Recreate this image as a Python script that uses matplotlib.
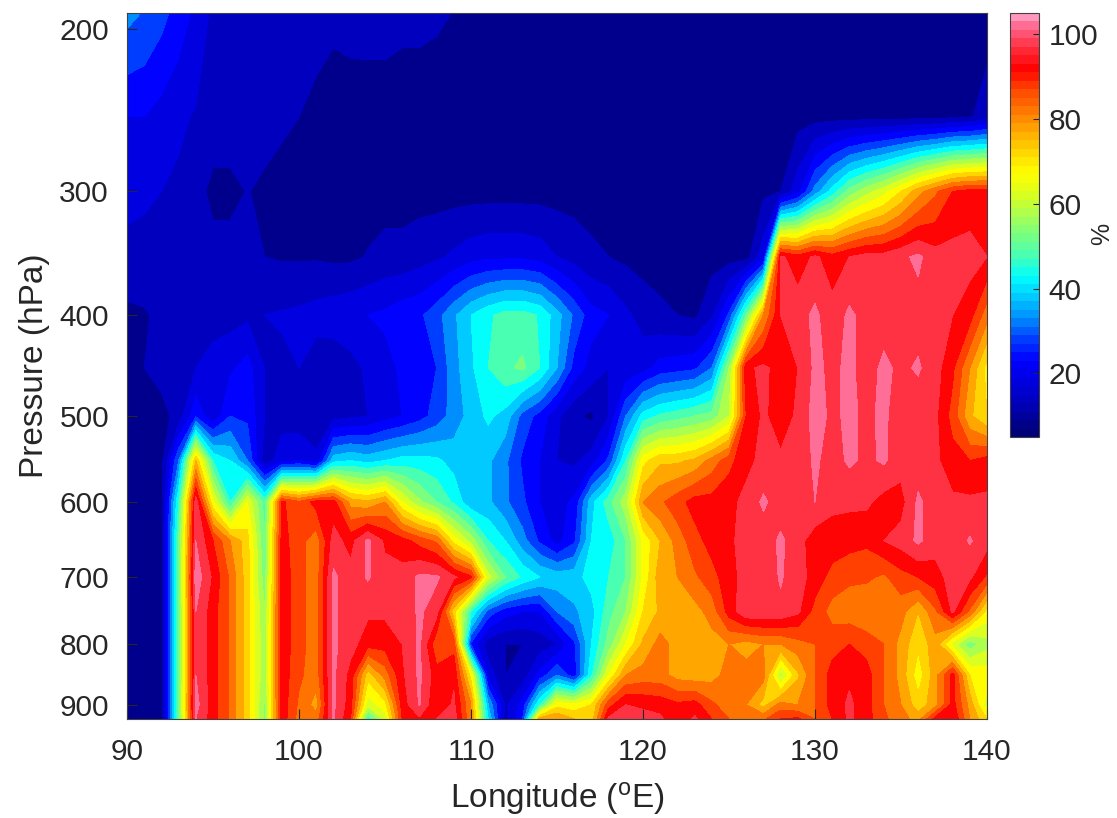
import numpy as np
import matplotlib
matplotlib.use("Agg")
import matplotlib.pyplot as plt
from matplotlib.cm import ScalarMappable
from matplotlib.colors import LinearSegmentedColormap, Normalize

plt.rcParams["font.family"] = ["Liberation Sans", "DejaVu Sans"]
plt.rcParams["mathtext.default"] = "regular"

#-------------------------------------------------------------------------
#   Data : relative humidity (%) per pressure level, lon 90..140 by 1 deg
#-------------------------------------------------------------------------

longitude = list(range(90, 141))
pressure = [190, 250, 300, 350, 400, 450, 500, 550, 600, 650, 700, 750, 800, 850, 900, 925]

rh_190 = [32, 30, 27, 23, 19, 14, 13, 12, 12, 12,
          12, 11.5, 11, 11.5, 11.6, 11.6, 11, 11, 10.6, 10,
          9, 8, 8, 8, 8, 8, 8, 8, 8, 8,
          8, 8, 8, 8, 8, 8, 8, 8, 8, 8,
          8, 8, 8, 8, 8, 8, 8, 8, 8, 8,
          8]
rh_250 = [20, 20, 18, 16, 14.5, 13, 13, 13, 12, 11,
          10, 9, 8, 8, 8, 8, 8, 8, 8, 8,
          8, 8, 8, 8, 8, 8, 8, 8, 8, 8,
          8, 8, 8, 8, 8, 8, 8, 8, 8, 8,
          8, 8, 8, 8, 8, 8, 8, 8, 9, 9.5,
          12]
rh_300 = [17, 16, 15, 14, 12, 8.5, 8.5, 10.2, 9, 8,
          8, 8, 8, 8, 8, 8, 8, 8, 8, 8,
          8, 8, 8, 8, 8, 8, 8, 8, 8, 8,
          8, 8, 8, 8, 8, 8, 8, 9, 10, 18,
          32, 42, 52, 58, 63, 70, 78, 84, 90, 92,
          92]
rh_350 = [13, 13, 13, 13, 13, 12, 12, 11, 10, 9.5,
          9.5, 9.5, 9, 9, 10.3, 11.6, 11.6, 13, 14, 16,
          18, 19, 19, 19, 18, 15, 13, 11, 10, 9,
          8, 8, 8, 8, 8, 8, 8, 18, 96, 92,
          96, 92, 95, 97, 97, 99, 101, 97, 97, 97,
          95]
rh_400 = [9, 9.5, 11, 12, 13, 13, 13, 14, 15, 15.5,
          16, 17, 18, 19, 20, 21, 23, 24, 28, 34,
          40, 44, 47, 47, 44.5, 37, 29, 22, 20, 16,
          13, 11, 10, 9, 14, 26, 50, 80, 95, 98,
          101, 97, 101, 98, 98, 98, 98, 97, 95, 92,
          82]
rh_450 = [8, 10, 12, 13, 15, 17, 19, 22, 15, 14,
          15, 12, 11, 13, 16, 18, 21, 22, 25, 33,
          39, 45, 49, 51, 45, 35, 23, 18, 15, 16,
          18, 22, 23, 24, 30, 55, 94, 96, 93, 95,
          101, 99, 101, 98, 101, 99, 100.6, 97, 91, 80,
          68]
rh_500 = [7, 7, 8, 12, 24, 16, 25, 24, 15, 13,
          12, 12, 13, 14, 15, 18, 20, 23, 27, 32,
          37, 41, 38, 28, 23, 16, 11, 9, 15, 30,
          42, 46, 48, 50, 52, 60, 90, 96, 92, 96,
          102, 99, 101, 99, 101, 97, 97, 96, 88, 76,
          70]
rh_550 = [7, 7, 8, 30, 75, 45, 40, 30, 12, 18,
          20, 16, 38, 40, 38, 40, 42, 42, 41, 38,
          36, 36, 31, 24, 20, 15, 14, 17, 26, 45,
          68, 74, 74, 76, 82, 88, 94, 96, 96, 97,
          100.8, 98, 100.8, 99, 100.7, 97, 97, 96, 92, 90,
          92]
rh_600 = [7, 7, 8, 45, 98, 66, 45, 65, 48, 91,
          86, 92, 92, 78, 76, 80, 65, 56, 50, 44,
          36, 36, 31, 26, 20, 18, 21, 38, 48, 58,
          80, 84, 88, 92, 92, 94, 96, 101, 97, 97,
          100, 96, 96, 96, 93, 93, 101, 97, 96, 96,
          96]
rh_650 = [7, 7, 8, 50, 100, 90, 80, 72, 50, 92,
          87, 82, 97, 93, 101, 94, 92, 88, 84, 68,
          58, 45, 40, 32, 24, 18, 24, 40, 42, 50,
          66, 75, 82, 88, 92, 94, 97, 97, 101, 97,
          92, 93, 92, 91, 95, 97, 101, 97, 97, 100.5,
          97]
rh_700 = [7, 7, 8, 50, 103, 94, 84, 72, 52, 93,
          87, 82, 101, 97, 100.5, 97, 97, 101, 100.8, 96,
          91, 62, 50, 44, 40, 38, 38, 42, 45, 50,
          66, 78, 80, 84, 88, 93, 97, 97, 100.5, 97,
          93, 88, 86, 86, 84, 88, 90, 93, 97, 96,
          89]
rh_750 = [7, 7, 8, 50, 100, 92, 84, 72, 55, 93,
          87, 82, 101, 97, 96, 96, 96, 101, 97, 72,
          45, 28, 22, 20, 20, 30, 34, 38, 48, 55,
          70, 76, 77, 78, 82, 92, 99, 99, 99, 96,
          88, 83, 82, 80, 82, 82, 75, 84, 96, 84,
          68]
rh_800 = [7, 7, 8, 50, 100, 92, 84, 72, 56, 93,
          87, 82, 101, 97, 92, 92, 95, 101, 86, 88,
          24, 12, 10, 10, 12, 15, 24, 40, 52, 65,
          76, 82, 78, 77, 78, 80, 78, 80, 80, 83,
          85, 88, 90, 88, 85, 78, 71, 78, 63, 52,
          58]
rh_850 = [7, 7, 8, 50, 100, 92, 84, 72, 56, 93,
          86, 82, 101, 93, 72, 82, 94, 101, 92, 94,
          68, 18, 10, 12, 22, 30, 22, 44, 65, 80,
          82, 82, 78, 77, 78, 82, 82, 82, 58, 74,
          85, 92, 94, 92, 85, 78, 67, 78, 92, 70,
          68]
rh_900 = [7, 7, 8, 50, 102, 92, 84, 72, 54, 93,
          84, 78, 101, 92, 62, 68, 92, 100.5, 90, 96,
          80, 35, 14, 22, 45, 68, 66, 70, 88, 95,
          94, 93, 91, 92, 86, 82, 80, 73, 82, 80,
          85, 92, 96, 92, 85, 80, 72, 78, 92, 78,
          62]
rh_925 = [7, 7, 8, 50, 100, 92, 84, 72, 54, 93,
          83, 82, 100.5, 90, 45, 62, 90, 94, 95, 98,
          80, 40, 12, 25, 78, 80, 75, 72, 96, 97,
          97, 96, 91, 96, 90, 85, 84, 84, 90, 91,
          85, 90, 96, 92, 86, 82, 78, 92, 95, 80,
          70]

rh_rows = [rh_190, rh_250, rh_300, rh_350, rh_400, rh_450, rh_500, rh_550,
           rh_600, rh_650, rh_700, rh_750, rh_800, rh_850, rh_900, rh_925]

x_ticks = [90, 100, 110, 120, 130, 140]
y_ticks = [200, 300, 400, 500, 600, 700, 800, 900]
cbar_ticks = [20, 40, 60, 80, 100]

#-------------------------------------------------------------------------
#   Colormap : jet with a pink top end, anchored on the band centres
#-------------------------------------------------------------------------

v_min, v_max = 5, 105
anchors = [(5, "#000078"), (7.5, "#00008c"), (12.5, "#0000be"), (17.5, "#0000e1"),
           (22.5, "#0000ff"), (27.5, "#003cff"), (32.5, "#008cff"), (37.5, "#00c8ff"),
           (42.5, "#00ffff"), (47.5, "#46ffb4"), (52.5, "#78ff82"), (57.5, "#aaff50"),
           (62.5, "#dcff1e"), (67.5, "#ffff00"), (72.5, "#ffd700"), (77.5, "#ffaa00"),
           (82.5, "#ff7800"), (87.5, "#ff4600"), (92.5, "#ff0000"), (97.5, "#ff2d3c"),
           (102.5, "#ff648c"), (105, "#ff96be")]
anchor_list = [((v - v_min) / (v_max - v_min), c) for v, c in anchors]
cmap = LinearSegmentedColormap.from_list("jet_pink", anchor_list, N=200)
norm = Normalize(v_min, v_max)

#-------------------------------------------------------------------------
#   Plot
#-------------------------------------------------------------------------

W, H = 1117, 818
text_color = "#262626"
fig = plt.figure(figsize=(W / 100, H / 100), dpi=100)
ax = fig.add_axes([127 / W, 1 - 719 / H, (987 - 127) / W, (719 - 13) / H])

rh = np.array(rh_rows, dtype=float)
levels = np.arange(5, 110, 5)

ax.set_yscale("function", functions=(lambda p: np.power(p, 0.2), lambda v: np.power(v, 5.0)))
ax.contourf(longitude, pressure, rh, levels=levels, cmap=cmap, norm=norm, antialiased=False)

ax.set_xlim(90, 140)
ax.set_ylim(925, 192)
ax.set_xticks(x_ticks)
ax.set_yticks(y_ticks)
ax.set_yticklabels([str(t) for t in y_ticks])
ax.minorticks_off()
ax.tick_params(axis="x", direction="in", length=7, width=0.8, labelsize=21.5, color=text_color,
               labelcolor=text_color, top=False, pad=14)
ax.tick_params(axis="y", direction="in", length=7, width=0.8, labelsize=21.5, color=text_color,
               labelcolor=text_color, right=False, pad=13)
ax.set_xlabel("Longitude ($^{o}$E)", fontsize=24, color=text_color, labelpad=10)
ax.set_ylabel("Pressure (hPa)", fontsize=24, color=text_color, labelpad=7)
for spine in ax.spines.values():
    spine.set_linewidth(0.8)
    spine.set_color("#404040")

# Colorbar
cax = fig.add_axes([1010 / W, 1 - 437 / H, 29 / W, (437 - 13) / H])
cbar = fig.colorbar(ScalarMappable(norm=norm, cmap=cmap.resampled(50)), cax=cax)
cbar.set_ticks(cbar_ticks)
cbar.ax.tick_params(direction="in", length=4, width=0.8, labelsize=21.5, color=text_color,
                    labelcolor=text_color, pad=7)
cbar.set_label("%", fontsize=18, color=text_color)
cbar.ax.yaxis.set_label_coords(2.75, 0.48)
cbar.outline.set_linewidth(0.8)
cbar.outline.set_edgecolor("#404040")

fig.savefig("out.png", dpi=100)
